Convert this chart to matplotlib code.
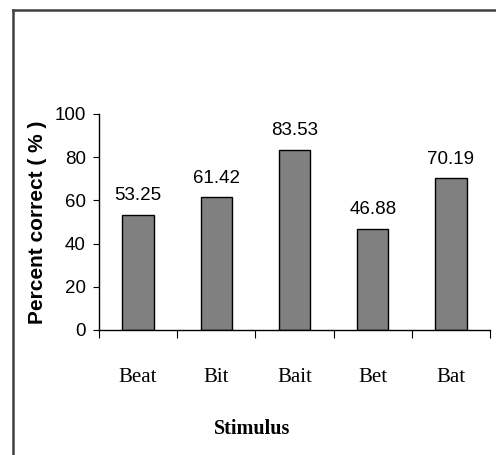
import matplotlib
matplotlib.use("Agg")
import matplotlib.pyplot as plt
from matplotlib.lines import Line2D

stimuli = ["Beat", "Bit", "Bait", "Bet", "Bat"]
percent_correct = [53.25, 61.42, 83.53, 46.88, 70.19]
yticks = [0, 20, 40, 60, 80, 100]

sans = ["Liberation Sans", "DejaVu Sans"]
serif = ["Liberation Serif", "DejaVu Serif"]

fig = plt.figure(figsize=(4.96, 4.55), dpi=100)
fig.patch.set_facecolor("white")

# frame lines (top and left visible, the rest is cropped off)
fig.add_artist(Line2D([12.5 / 496, 12.5 / 496], [0, 1 - 9.5 / 455],
                      transform=fig.transFigure, color="#404040", lw=1.8))
fig.add_artist(Line2D([12.5 / 496, 1], [1 - 9.5 / 455, 1 - 9.5 / 455],
                      transform=fig.transFigure, color="#404040", lw=1.8))

ax = fig.add_axes([99 / 496, 125 / 455, 391 / 496, 216 / 455])
x = range(len(stimuli))
ax.bar(x, percent_correct, width=0.4, color="#808080",
       edgecolor="black", linewidth=1.0)

for xi, v in zip(x, percent_correct):
    ax.annotate(f"{v:.2f}", (xi, v), xytext=(0, 10.5), textcoords="offset points",
                ha="center", va="baseline", fontsize=13.5, family=sans)

ax.set_xlim(-0.5, len(stimuli) - 0.5)
ax.set_ylim(0, 100)
ax.set_yticks(yticks)
ax.set_yticklabels([str(t) for t in yticks], family=sans, fontsize=13.5)
# category boundaries get the tick marks, names sit between them
ax.set_xticks([i - 0.5 for i in range(len(stimuli) + 1)])
ax.set_xticklabels([])
ax.set_xticks(list(x), minor=True)
ax.set_xticklabels(stimuli, minor=True, family=serif, fontsize=15)
ax.tick_params(axis="x", which="major", length=6, direction="out")
ax.tick_params(axis="x", which="minor", length=0, pad=27)
ax.tick_params(axis="y", length=4.5, direction="out", pad=5)

for s in ["top", "right"]:
    ax.spines[s].set_visible(False)
for s in ["left", "bottom"]:
    ax.spines[s].set_linewidth(1.0)

fig.text(38 / 496, 1 - 222 / 455, "Percent correct ( % )", rotation=90,
         ha="center", va="center", fontsize=15, fontweight="bold", family=sans)
fig.text(252 / 496, 1 - 429 / 455, "Stimulus", ha="center", va="center",
         fontsize=14.5, fontweight="bold", family=serif)

fig.savefig("out.png", dpi=100, facecolor="white")
